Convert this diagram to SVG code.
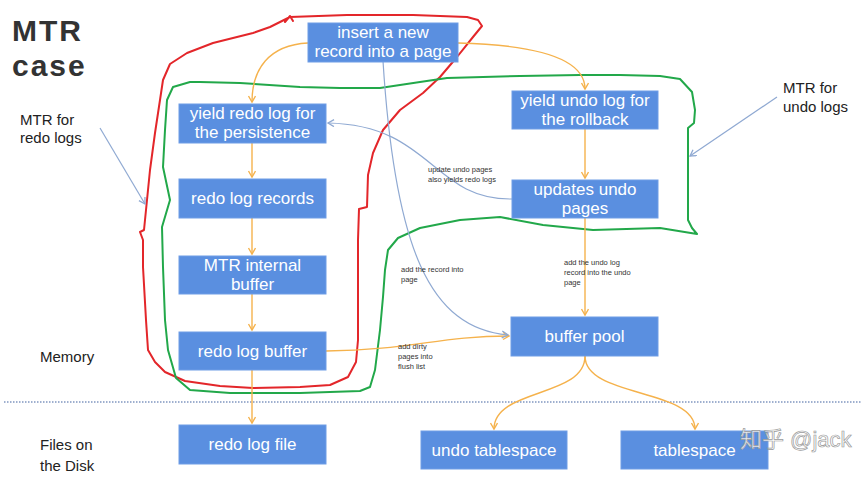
<svg xmlns="http://www.w3.org/2000/svg" width="864" height="484" viewBox="0 0 864 484">
<style>
.box{fill:#5a8fe0;stroke:#6f9de6;stroke-width:1}
.bt{font-family:"Liberation Sans",Arial,sans-serif;font-size:17px;fill:#fff;text-anchor:middle}
.lbl{font-family:"Liberation Sans",Arial,sans-serif;font-size:15px;fill:#222}
.sm{font-family:"Liberation Sans",Arial,sans-serif;font-size:7.5px;fill:#333}
.or{fill:none;stroke:#f5b24c;stroke-width:1.4}
.bl{fill:none;stroke:#8fa9d2;stroke-width:1.2}
.red{fill:none;stroke:#e3262a;stroke-width:2;stroke-linejoin:round;stroke-linecap:round}
.grn{fill:none;stroke:#22a84a;stroke-width:2;stroke-linejoin:round;stroke-linecap:round}
</style>
<defs>
<marker id="ao" markerWidth="10" markerHeight="10" refX="7" refY="4" orient="auto" markerUnits="userSpaceOnUse">
<path d="M1,0.5 L7,4 L1,7.5" fill="none" stroke="#f5b24c" stroke-width="1.4"/>
</marker>
<marker id="ab" markerWidth="10" markerHeight="10" refX="7" refY="4" orient="auto" markerUnits="userSpaceOnUse">
<path d="M1,0.5 L7,4 L1,7.5" fill="none" stroke="#8fa9d2" stroke-width="1.3"/>
</marker>
</defs>
<rect width="864" height="484" fill="#fff"/>

<g id="title">
<text x="12" y="41" font-family="Liberation Sans,Arial,sans-serif" font-size="30" font-weight="bold" fill="#333" letter-spacing="2">MTR</text>
<text x="12" y="76" font-family="Liberation Sans,Arial,sans-serif" font-size="30" font-weight="bold" fill="#333" letter-spacing="2">case</text>
</g>
<g id="labels">
<text class="lbl" x="20" y="125">MTR for</text>
<text class="lbl" x="20" y="143">redo logs</text>
<text class="lbl" x="783" y="93">MTR for</text>
<text class="lbl" x="783" y="112">undo logs</text>
<text class="lbl" x="40" y="362">Memory</text>
<text class="lbl" x="40" y="450">Files on</text>
<text class="lbl" x="40" y="471">the Disk</text>
</g>

<line x1="4" y1="402" x2="862" y2="402" stroke="#9fb0cf" stroke-width="2" stroke-dasharray="1.5 1.5"/>

<g id="outlines">
<path class="red" d="M290,17 L347,15 L413,15 L467,17 L478,20 L482,26 L473,37 L457,57 L440,77 L423,93 L400,110 L383,130 L373,153 L368,175 L367,207 L359,209 L358,240 L358,300 L358,340 L356,362 L348,377 L330,385 L300,387 L253,388 L220,386 L185,381 L165,372 L155,362 L148,350 L146,320 L143,267 L143,240 L140,232 L144,230 L147,200 L150,170 L155,133 L160,100 L163,80 L170,64 L187,53 L213,43 L253,33 L270,27 L290,17 M285,22 L290,16 L293,21"/>
<path class="grn" d="M200,82 L240,83 L300,87 L340,88 L380,88 L420,82 L447,78 L520,76 L580,75 L620,75 L660,76 L680,79 L692,92 L695,110 L694,123 L688,128 L688,180 L688,220 L692,228 L697,234 L660,228 L593,230 L543,225 L500,217 L460,220 L420,228 L398,238 L388,250 L385,270 L383,297 L380,330 L375,370 L370,387 L360,391 L300,393 L230,393 L190,390 L176,378 L168,350 L165,320 L163,267 L162,227 L170,200 L163,167 L165,130 L167,100 L173,87 L190,82 Z"/>
</g>

<g id="connectors">
<path class="or" d="M308,43 C268,45 252,70 252,102" marker-end="url(#ao)"/>
<path class="or" d="M458,43 C540,45 585,60 585,89" marker-end="url(#ao)"/>
<path class="or" d="M252,143 L252,177" marker-end="url(#ao)"/>
<path class="or" d="M252,218 L252,254" marker-end="url(#ao)"/>
<path class="or" d="M252,294 L252,330" marker-end="url(#ao)"/>
<path class="or" d="M252,370 L252,423" marker-end="url(#ao)"/>
<path class="or" d="M585,129 L585,178" marker-end="url(#ao)"/>
<path class="or" d="M585,218 L585,315" marker-end="url(#ao)"/>
<path class="or" d="M326,351 C410,350 440,336 509,336" marker-end="url(#ao)"/>
<path class="or" d="M585,356 C585,398 494,388 494,429" marker-end="url(#ao)"/>
<path class="or" d="M585,356 C585,398 695,388 695,429" marker-end="url(#ao)"/>
<path class="bl" d="M383,61 C395,250 430,328 508,335" marker-end="url(#ab)"/>
<path class="bl" d="M512,199 C432,200 432,125 328,123" marker-end="url(#ab)"/>
<path class="bl" d="M100,128 L145,204" marker-end="url(#ab)"/>
<path class="bl" d="M777,97 L690,156" marker-end="url(#ab)"/>
<text class="sm" x="428" y="172">update undo pages</text>
<text class="sm" x="428" y="182">also yields redo logs</text>
<text class="sm" x="401" y="272">add the record into</text>
<text class="sm" x="401" y="282">page</text>
<text class="sm" x="564" y="265">add the undo log</text>
<text class="sm" x="564" y="275">record into the undo</text>
<text class="sm" x="564" y="285">page</text>
<text class="sm" x="398" y="349">add dirty</text>
<text class="sm" x="398" y="359">pages into</text>
<text class="sm" x="398" y="369">flush list</text>
</g>

<g id="insert"><rect class="box" x="308" y="23" width="150" height="39"/><text class="bt" x="383" y="38">insert a new</text><text class="bt" x="383" y="57">record into a page</text></g>
<g id="yieldRedo"><rect class="box" x="179" y="104" width="147" height="39"/><text class="bt" x="252.5" y="119">yield redo log for</text><text class="bt" x="252.5" y="138">the persistence</text></g>
<g id="redoRecords"><rect class="box" x="179" y="179" width="147" height="39"/><text class="bt" x="252.5" y="204">redo log records</text></g>
<g id="mtrBuffer"><rect class="box" x="179" y="256" width="147" height="38"/><text class="bt" x="252.5" y="271">MTR internal</text><text class="bt" x="252.5" y="290">buffer</text></g>
<g id="redoBuffer"><rect class="box" x="179" y="332" width="147" height="38"/><text class="bt" x="252.5" y="357">redo log buffer</text></g>
<g id="redoFile"><rect class="box" x="179" y="425" width="147" height="39"/><text class="bt" x="252.5" y="450">redo log file</text></g>
<g id="yieldUndo"><rect class="box" x="512" y="91" width="146" height="38"/><text class="bt" x="585" y="106">yield undo log for</text><text class="bt" x="585" y="125">the rollback</text></g>
<g id="updatesUndo"><rect class="box" x="512" y="180" width="146" height="38"/><text class="bt" x="585" y="195">updates undo</text><text class="bt" x="585" y="214">pages</text></g>
<g id="bufferPool"><rect class="box" x="511" y="317" width="147" height="39"/><text class="bt" x="584.5" y="342">buffer pool</text></g>
<g id="undoTs"><rect class="box" x="421" y="431" width="146" height="38"/><text class="bt" x="494" y="456">undo tablespace</text></g>
<g id="ts"><rect class="box" x="621" y="431" width="147" height="38"/><text class="bt" x="694.5" y="456">tablespace</text></g>

<g id="watermark">
<text x="740" y="447" font-family="Liberation Sans,'Noto Sans CJK SC',sans-serif" font-size="22" fill="#ffffff" fill-opacity="0.85" stroke="#9a9a9a" stroke-width="0.7">知乎 @jack</text>
</g>
</svg>
